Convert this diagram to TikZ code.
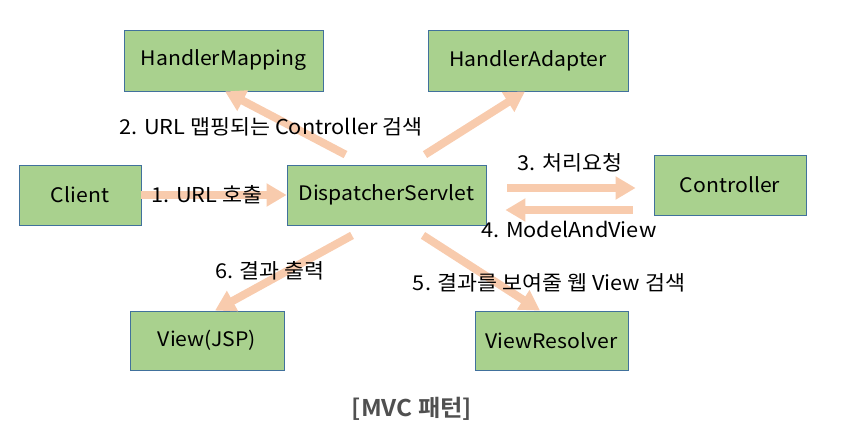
\documentclass[tikz,border=0pt]{standalone}
\usepackage{fontspec}
\setmainfont{Noto Sans CJK KR}[BoldFont={Noto Sans CJK KR Bold},FakeStretch=1.06]
\usetikzlibrary{arrows.meta}
\definecolor{boxgreen}{HTML}{A9D18E}
\definecolor{boxline}{HTML}{41719C}
\definecolor{peach}{HTML}{F8CBAD}
\definecolor{capgray}{HTML}{505050}
\begin{document}
\begin{tikzpicture}[x=1pt,y=-1pt,
    box/.style={draw=boxline,fill=boxgreen,line width=.8pt,inner sep=0pt,
      font=\fontsize{20}{24}\selectfont},
    blk/.style={draw=peach,line width=8pt,-{Triangle[width=22pt,length=20pt]}},
    lbl/.style={inner sep=0pt,font=\fontsize{20.5}{24}\selectfont}]
  \useasboundingbox (0,0) rectangle (845,444);
  % boxes
  \node[box,minimum width=199pt,minimum height=61pt] (hm) at (223.5,60.5) {HandlerMapping};
  \node[box,minimum width=200pt,minimum height=61pt] (ha) at (528,60.5) {HandlerAdapter};
  \node[box,minimum width=122pt,minimum height=60pt] (cl) at (80,195) {Client};
  \node[box,minimum width=199pt,minimum height=60pt] (ds) at (386.5,195) {DispatcherServlet};
  \node[box,minimum width=152pt,minimum height=60pt] (ct) at (730,185) {Controller};
  \node[box,minimum width=154pt,minimum height=59pt] (vj) at (207,340.5) {View(JSP)};
  \node[box,minimum width=153pt,minimum height=59pt] (vr) at (551.5,340.5) {ViewResolver};
  % arrows
  \draw[blk] (cl.east) -- (ds.west);
  \draw[blk] ([shift={(-41,-10)}]ds.north) -- ([shift={(1.5,0)}]hm.south);
  \draw[blk] ([shift={(38.5,-10)}]ds.north) -- ([shift={(-3,0)}]ha.south);
  \draw[blk] ([shift={(21,-7)}]ds.east) -- ([shift={(-18,3)}]ct.west);
  \draw[blk] ([shift={(-21,25)}]ct.west) -- ([shift={(19,15)}]ds.east);
  \draw[blk] ([shift={(-34.5,10)}]ds.south) -- ([shift={(8,0)}]vj.north);
  \draw[blk] ([shift={(36.5,10)}]ds.south) -- ([shift={(-11.5,0)}]vr.north);
  % labels
  \node[lbl] (l1) at (207,195) {1. URL 호출};
  \node[lbl] (l2) at (271,127) {2. URL 맵핑되는 Controller 검색};
  \node[lbl] (l3) at (570,163) {3. 처리요청};
  \node[lbl] (l4) at (569,229) {4. ModelAndView};
  \node[lbl] (l5) at (549,283) {5. 결과를 보여줄 웹 View 검색};
  \node[lbl] (l6) at (270,271) {6. 결과 출력};
  \node[inner sep=0pt,text=capgray,font=\fontsize{23}{26}\selectfont\bfseries] (cap) at (412,409) {[MVC 패턴]};
\end{tikzpicture}
\end{document}
